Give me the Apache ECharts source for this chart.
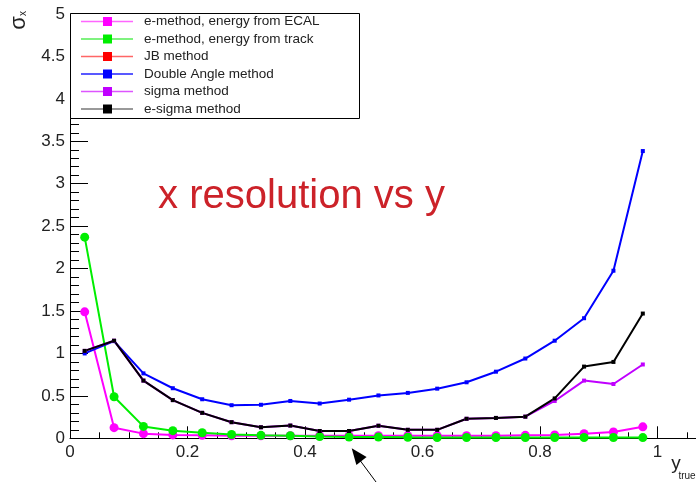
<!DOCTYPE html>
<html>
<head>
<meta charset="utf-8">
<script src="https://cdn.jsdelivr.net/npm/echarts@6/dist/echarts.min.js"></script>
<style>
  html, body { margin: 0; padding: 0; background: #fff; }
  #chart { width: 696px; height: 482px; }
</style>
</head>
<body>
<div id="chart"></div>
<script>
// Bin centres in y_true
const yTrue = [0.025, 0.075, 0.125, 0.175, 0.225, 0.275, 0.325, 0.375, 0.425, 0.475,
               0.525, 0.575, 0.625, 0.675, 0.725, 0.775, 0.825, 0.875, 0.925, 0.975];

// sigma_x per method
const eEcal   = [1.49, 0.125, 0.055, 0.04, 0.035, 0.03, 0.03, 0.03, 0.03, 0.03,
                 0.03, 0.03, 0.03, 0.03, 0.03, 0.035, 0.04, 0.055, 0.075, 0.135];
const eTrack  = [2.37, 0.49, 0.14, 0.09, 0.065, 0.045, 0.035, 0.03, 0.02, 0.015,
                 0.015, 0.012, 0.01, 0.01, 0.01, 0.01, 0.01, 0.01, 0.01, 0.008];
const jb      = [];
const dblAngle = [1.0, 1.145, 0.765, 0.59, 0.46, 0.39, 0.395, 0.44, 0.41, 0.455,
                  0.505, 0.535, 0.585, 0.66, 0.785, 0.94, 1.15, 1.415, 1.975, 3.385];
const sigmaM  = [1.03, 1.15, 0.68, 0.45, 0.30, 0.19, 0.13, 0.15, 0.086, 0.086,
                 0.148, 0.10, 0.10, 0.23, 0.24, 0.255, 0.44, 0.68, 0.64, 0.87];
const eSigma  = [1.03, 1.15, 0.68, 0.45, 0.30, 0.19, 0.13, 0.15, 0.086, 0.086,
                 0.148, 0.10, 0.10, 0.23, 0.24, 0.255, 0.47, 0.845, 0.90, 1.47];

const seriesNames = ['e-method, energy from ECAL', 'e-method, energy from track', 'JB method',
                     'Double Angle method', 'sigma method', 'e-sigma method'];
const seriesValues = [eEcal, eTrack, jb, dblAngle, sigmaM, eSigma];
const markerColors = ['#ff00ff', '#00ee00', '#ff0000', '#0000ff', '#c000ff', '#000000'];
const legendLineColors = ['#ff66ff', '#55ee55', '#ff6666', '#2222ff', '#dd55ff', '#777777'];
const symbols = ['circle', 'circle', 'rect', 'rect', 'rect', 'rect'];
const symbolSizes = [9, 9, 4, 4, 4, 4];

const xTicks = ['0', '0.2', '0.4', '0.6', '0.8', '1'];
const yTicks = ['0', '0.5', '1', '1.5', '2', '2.5', '3', '3.5', '4', '4.5', '5'];

const FONT = '"Liberation Sans", Arial, sans-serif';

const chart = echarts.init(document.getElementById('chart'), null, { renderer: 'canvas' });

const series = seriesValues.map((vals, i) => ({
  name: seriesNames[i],
  type: 'line',
  data: vals.map((v, k) => [yTrue[k], v]),
  symbol: symbols[i],
  symbolSize: symbolSizes[i],
  showAllSymbol: true,
  lineStyle: { color: markerColors[i], width: 2 },
  itemStyle: { color: markerColors[i] },
  emphasis: { disabled: true },
  animation: false,
  clip: false
}));

// Legend box: line + square marker per entry
const legendEls = [{
  type: 'rect', z: 100,
  shape: { x: 70.5, y: 13.5, width: 289, height: 105 },
  style: { fill: '#fff', stroke: '#000', lineWidth: 1 }
}];
seriesNames.forEach((name, i) => {
  const cy = 21.5 + i * 17.5;
  legendEls.push({
    type: 'line', z: 101,
    shape: { x1: 81, y1: cy, x2: 133, y2: cy },
    style: { stroke: legendLineColors[i], lineWidth: 1.5 }
  });
  legendEls.push({
    type: 'rect', z: 102,
    shape: { x: 103, y: cy - 4.5, width: 9, height: 9 },
    style: { fill: markerColors[i] }
  });
  legendEls.push({
    type: 'text', z: 102, x: 144, y: cy,
    style: { text: name, font: '13.5px ' + FONT, fill: '#222', verticalAlign: 'middle', align: 'left' }
  });
});

const option = {
  backgroundColor: '#fff',
  animation: false,
  // the x axis runs on past the right edge of the canvas
  grid: { left: 70, top: 14, width: 646.25, height: 424.3, containLabel: false, outerBoundsMode: 'none' },
  xAxis: {
    type: 'value', min: 0, max: 1.1, interval: 0.2,
    axisLine: { show: true, onZero: false, lineStyle: { color: '#000', width: 1 } },
    axisTick: { show: true, inside: true, length: 12, lineStyle: { color: '#000' } },
    minorTick: { show: true, splitNumber: 4, length: 6, lineStyle: { color: '#000' } },
    splitLine: { show: false },
    axisLabel: {
      showMaxLabel: false, margin: 6,
      color: '#222', fontSize: 17, fontFamily: FONT,
      formatter: (v) => {
        const idx = Math.round(v / 0.2);
        return Math.abs(v - idx * 0.2) < 1e-6 && idx < xTicks.length ? xTicks[idx] : '';
      }
    }
  },
  yAxis: {
    type: 'value', min: 0, max: 5, interval: 0.5,
    axisLine: { show: true, onZero: false, lineStyle: { color: '#000', width: 1 } },
    axisTick: { show: true, inside: true, length: 18, lineStyle: { color: '#000' } },
    minorTick: { show: true, splitNumber: 5, length: 9, lineStyle: { color: '#000' } },
    splitLine: { show: false },
    axisLabel: {
      margin: 5, color: '#222', fontSize: 17, fontFamily: FONT,
      formatter: (v) => yTicks[Math.round(v / 0.5)]
    }
  },
  series: series,
  graphic: legendEls.concat([
    {
      type: 'text', z: 50, x: 301.5, y: 196.5,
      style: { text: 'x resolution vs y', font: '40px ' + FONT, fill: '#cc2229', align: 'center', verticalAlign: 'middle' }
    },
    {
      type: 'text', z: 50, x: 18.5, y: 23, rotation: Math.PI / 2,
      style: { text: 'σ', font: '22px ' + FONT, fill: '#222', align: 'center', verticalAlign: 'middle' }
    },
    {
      type: 'text', z: 50, x: 23, y: 13.5, rotation: Math.PI / 2,
      style: { text: 'x', font: '10px ' + FONT, fill: '#222', align: 'center', verticalAlign: 'middle' }
    },
    {
      type: 'text', z: 50, x: 676, y: 464,
      style: { text: 'y', font: '19px ' + FONT, fill: '#222', align: 'center', verticalAlign: 'middle' }
    },
    {
      type: 'text', z: 50, x: 687, y: 476,
      style: { text: 'true', font: '10px ' + FONT, fill: '#222', align: 'center', verticalAlign: 'middle' }
    },
    {
      type: 'line', z: 50,
      shape: { x1: 379, y1: 486, x2: 359, y2: 459 },
      style: { stroke: '#000', lineWidth: 1 }
    },
    {
      type: 'polygon', z: 50,
      shape: { points: [[351.7, 448.3], [366.6, 456.9], [356.4, 464.9]] },
      style: { fill: '#000' }
    }
  ])
};

chart.setOption(option);
</script>
</body>
</html>
